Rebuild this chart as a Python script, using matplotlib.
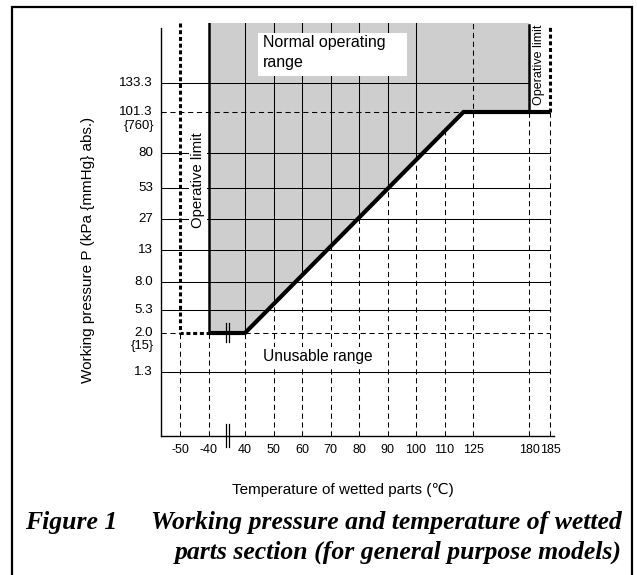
import matplotlib
matplotlib.use('Agg')
import matplotlib.pyplot as plt
import numpy as np
from matplotlib.patches import Rectangle, Polygon

plt.rcParams['font.family'] = ['Liberation Sans', 'DejaVu Sans']

# ---------------- data ----------------
temps = [-50, -40, 40, 50, 60, 70, 80, 90, 100, 110, 125, 180, 185]
temp_labels = [str(t) for t in temps]
pressures = [1.3, 2.0, 5.3, 8.0, 13, 27, 53, 80, 101.3, 133.3]
pressure_labels = ['1.3', '2.0', '5.3', '8.0', '13', '27', '53', '80', '101.3', '133.3']
mmhg_labels = {2.0: '{15}', 101.3: '{760}'}

# boundary of the normal operating range
boundary_temp = [-40, 40, 120, 185]
boundary_pres = [2.0, 2.0, 101.3, 101.3]
low_limit_temp = -50      # dotted operative limit (low temperature)
high_limit_temp = 185     # dotted operative limit (high temperature)
range_left_temp = -40
range_right_temp = 180
solid_upper_temps = [40, 50, 60, 70, 80, 90, 100]
solid_rows = [1.3, 5.3, 8.0, 13, 27, 53, 80]

# ---------------- layout (non-linear chart scale) ----------------
x_slot = [19, 48, 84, 112.5, 141, 169.5, 198, 226.5, 255, 283.5, 312, 368, 389]
y_slot = [64, 103, 126, 154, 186, 217, 248, 283, 324, 353]
TOP = 413
XMAX, YMAX = 393, 413


def X(t):
    return np.interp(t, temps, x_slot)


def Y(p):
    return np.interp(p, pressures, y_slot)


W, H = 637, 575
fig = plt.figure(figsize=(W / 100, H / 100), dpi=100)
ax = fig.add_axes([161 / W, (H - 436) / H, 393 / W, 413 / H])
ax.set_xlim(0, XMAX)
ax.set_ylim(0, YMAX)

# outer frame
fig.patches.append(Rectangle((12 / W, -0.1), 620 / W, 1.1 - 7 / H, transform=fig.transFigure,
                             fill=False, lw=1.6, ec='black', clip_on=False))

for s in ['top', 'right']:
    ax.spines[s].set_visible(False)
ax.spines['left'].set_bounds(0, 408)
ax.spines['bottom'].set_bounds(0, XMAX)
for s in ['left', 'bottom']:
    ax.spines[s].set_linewidth(1.0)

xb = X(np.array(boundary_temp))
yb = Y(np.array(boundary_pres))

# gray normal operating range
poly = [(X(range_left_temp), TOP), (X(range_left_temp), Y(2.0))]
poly += list(zip(xb[1:-1], yb[1:-1]))
poly += [(X(range_right_temp), Y(101.3)), (X(range_right_temp), TOP)]
ax.add_patch(Polygon(poly, closed=True, fc='#cecece', ec='none', zorder=1))

dash = (0, (5, 3.5))
gkw = dict(color='black', lw=0.75, zorder=2)

# horizontal grid
for p in solid_rows:
    ax.plot([0, X(185)], [Y(p), Y(p)], **gkw)
ax.plot([0, X(180)], [Y(133.3), Y(133.3)], **gkw)
ax.plot([0, X(120)], [Y(101.3), Y(101.3)], ls=dash, **gkw)
ax.plot([0, X(-50)], [Y(2.0), Y(2.0)], ls=dash, **gkw)
ax.plot([X(40), X(185)], [Y(2.0), Y(2.0)], ls=dash, **gkw)

# vertical grid
for t in temps:
    xp = X(t)
    b = Y(2.0) if t < range_left_temp else np.interp(xp, xb, yb)
    if t == 125:
        ax.plot([xp, xp], [0, TOP], ls=dash, **gkw)
    else:
        ax.plot([xp, xp], [0, b], ls=dash, **gkw)
    if t in solid_upper_temps:
        ax.plot([xp, xp], [b, TOP], **gkw)

# range edges
ax.plot([X(range_left_temp)] * 2, [Y(2.0), TOP], color='black', lw=1.8, zorder=4)
ax.plot([X(range_right_temp)] * 2, [Y(101.3), TOP - 2], color='black', lw=1.8, zorder=4)

# operative limits (dotted)
dot = (0, (1.3, 0.9))
ax.plot([X(low_limit_temp), X(low_limit_temp), X(range_left_temp)], [TOP, Y(2.0), Y(2.0)],
        color='black', lw=2.2, ls=dot, zorder=4, solid_joinstyle='miter')
ax.plot([X(high_limit_temp)] * 2, [Y(101.3), TOP - 2], color='black', lw=2.2, ls=dot, zorder=4)

# boundary thick line
ax.plot(xb, yb, color='black', lw=3.0, zorder=5, solid_joinstyle='miter', solid_capstyle='butt')

# break marks
for bx_ in (65, 68.3):
    ax.plot([bx_, bx_], [-11, 12], color='black', lw=0.9, zorder=6, clip_on=False)
    ax.plot([bx_, bx_], [94, 113], color='black', lw=0.9, zorder=6, clip_on=False)

# white label box
ax.add_patch(Rectangle((97, 360), 149, 43, fc='white', ec='none', zorder=3))
ax.text(102, 393, 'Normal operating', fontsize=11.5, va='center', ha='left', zorder=6)
ax.text(102, 373, 'range', fontsize=11.5, va='center', ha='left', zorder=6)

ax.text(157, 79, 'Unusable range', fontsize=11.2, ha='center', va='center', zorder=6,
        bbox=dict(fc='white', ec='none', pad=1.5))
ax.text(37, 256, 'Operative limit', fontsize=10.7, rotation=90, ha='center', va='center', zorder=6,
        bbox=dict(fc='white', ec='none', pad=1.5))
ax.text(378, 371, 'Operative limit', fontsize=9, rotation=90, ha='center', va='center', zorder=6,
        bbox=dict(fc='white', ec='none', pad=1.0))

# ticks
ax.set_xticks(x_slot, temp_labels)
ax.tick_params(axis='x', length=0, pad=6, labelsize=9)
ax.set_yticks([])
for p, lab in zip(pressures, pressure_labels):
    ax.text(-8, Y(p), lab, ha='right', va='center', fontsize=9.6, clip_on=False)
    if p in mmhg_labels:
        ax.text(-7, Y(p) - 13.5, mmhg_labels[p], ha='right', va='center', fontsize=9.4, clip_on=False)

fig.text(88 / W, 1 - 250 / H, 'Working pressure P (kPa {mmHg} abs.)', rotation=90,
         ha='center', va='center', fontsize=11)
fig.text(343 / W, 1 - 490 / H, 'Temperature of wetted parts (\u2103)', ha='center', va='center',
         fontsize=11)

cap = dict(family=['Liberation Serif', 'DejaVu Serif'], fontweight='bold', fontstyle='italic', fontsize=18.5)
fig.text(25 / W, 1 - 523 / H, 'Figure 1', ha='left', va='center', **cap)
fig.text(622 / W, 1 - 523 / H, 'Working pressure and temperature of wetted', ha='right', va='center', **cap)
fig.text(622 / W, 1 - 552 / H, 'parts section (for general purpose models)', ha='right', va='center', **cap)

fig.savefig('out.png', dpi=100)
